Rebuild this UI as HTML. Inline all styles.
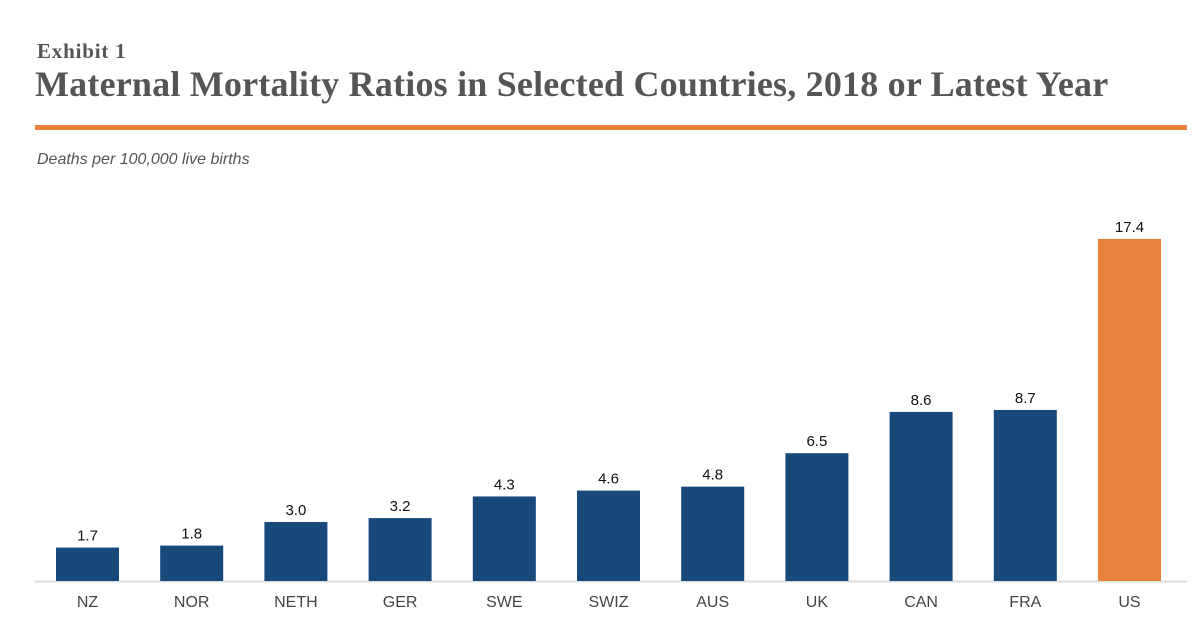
<!DOCTYPE html>
<html><head><meta charset="utf-8"><style>
body{margin:0;background:#fff;width:1200px;height:627px;overflow:hidden;position:relative;font-family:"Liberation Sans",sans-serif}
.t{position:absolute;white-space:nowrap}
</style></head><body>
<div class="t" style="left:37px;top:39px;font:bold 21px 'Liberation Serif',serif;color:#555;letter-spacing:0.8px">Exhibit 1</div>
<div class="t" style="left:35px;top:63px;font:bold 36px 'Liberation Serif',serif;color:#555;letter-spacing:0.2px">Maternal Mortality Ratios in Selected Countries, 2018 or Latest Year</div>
<div style="position:absolute;left:35px;top:125px;width:1152px;height:5px;background:#e8823a"></div>
<div class="t" style="left:37px;top:151px;font:italic 16px 'Liberation Sans',sans-serif;color:#555">Deaths per 100,000 live births</div>
<svg id="c" width="1200" height="627" style="position:absolute;left:0;top:0"></svg>
<script>
const categories=["NZ","NOR","NETH","GER","SWE","SWIZ","AUS","UK","CAN","FRA","US"];
const values=[1.7,1.8,3.0,3.2,4.3,4.6,4.8,6.5,8.6,8.7,17.4];
const labels=["1.7","1.8","3.0","3.2","4.3","4.6","4.8","6.5","8.6","8.7","17.4"];
const svg=document.getElementById('c');const NS="http://www.w3.org/2000/svg";
const base=581,ppu=19.66,x0=87.5,step=104.2,bw=63;
const y=v=>base-v*ppu, x=i=>x0+i*step;
function mk(t,a){const e=document.createElementNS(NS,t);for(const k in a)e.setAttribute(k,a[k]);svg.appendChild(e);return e;}
const ax=mk('line',{x1:35,x2:1187,y1:base+0.5,y2:base+0.5,stroke:'#ddd','stroke-width':2});


categories.forEach((c,i)=>{
 const r=mk('rect',{x:x(i)-bw/2,y:y(values[i]),width:bw,height:values[i]*ppu,fill:c==="US"?'#e8823a':'#17497a'});
 
 
 const v=mk('text',{x:x(i),y:y(values[i])-7,'text-anchor':'middle','font-size':15,fill:'#111','font-family':'Liberation Sans'});v.textContent=labels[i];
 
 
 const l=mk('text',{x:x(i),y:607,'text-anchor':'middle','font-size':16,fill:'#444','font-family':'Liberation Sans'});l.textContent=c;
 
 
});
</script>
</body></html>
